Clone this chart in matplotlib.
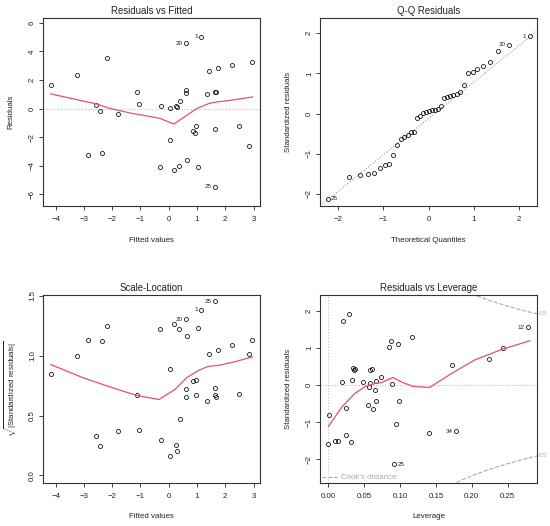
import numpy as np
import matplotlib
matplotlib.use("Agg")
import matplotlib.pyplot as plt
from matplotlib.lines import Line2D
import matplotlib.transforms as mtransforms

plt.rcParams['font.family'] = ['Liberation Sans', 'DejaVu Sans']
plt.rcParams['mathtext.fontset'] = 'custom'
plt.rcParams['mathtext.rm'] = 'Liberation Sans'

# ---- Residuals vs Fitted ----
fitted = [-4.18, -3.24, -2.18, -2.85, -2.36, -2.59, -2.44, -1.78, -1.13, -1.06,
          -0.26, -0.32, 0.03, 0.03, 0.24, 0.31, 0.39, 0.18, 0.35, 0.66,
          0.61, 0.60, 0.62, 1.15, 0.86, 0.92, 0.95, 1.05, 1.37, 1.42,
          1.65, 1.69, 1.65, 1.65, 1.74, 2.24, 2.49, 2.83, 2.96]
resid = [1.66, 2.32, 3.56, -3.23, -3.11, 0.28, -0.16, -0.37, 1.17, 0.35,
         0.21, -4.05, 0.07, -2.18, 0.19, 0.09, 0.56, -4.30, -4.00, -3.60,
         4.56, 1.31, 1.12, 5.03, -1.57, -1.71, -1.19, -4.05, 1.03, 2.62,
         1.17, 1.17, -1.40, -5.47, 2.81, 3.04, -1.19, -2.62, 3.27]
rf_smooth_x = [-4.18, -2.56, -2.09, -1.26, -0.96, -0.31, 0.18, 1.00, 1.44, 1.70, 2.29, 2.96]
rf_smooth_y = [1.03, 0.33, 0.02, -0.35, -0.44, -0.68, -1.08, 0.02, 0.37, 0.47, 0.61, 0.82]
rf_ids = {"20": (0.61, 4.56), "1": (1.15, 5.03), "25": (1.65, -5.47)}

# ---- Q-Q Residuals ----
theo_q = [-2.231, -1.769, -1.522, -1.342, -1.198, -1.076, -0.967, -0.869, -0.779, -0.695,
          -0.615, -0.539, -0.466, -0.396, -0.327, -0.260, -0.194, -0.129, -0.064, 0.0,
          0.064, 0.129, 0.194, 0.260, 0.327, 0.396, 0.466, 0.539, 0.615, 0.695,
          0.779, 0.869, 0.967, 1.076, 1.198, 1.342, 1.522, 1.769, 2.231]
std_resid_sorted = [-2.12, -1.59, -1.53, -1.50, -1.49, -1.35, -1.28, -1.26, -1.03, -0.78,
                    -0.63, -0.58, -0.53, -0.46, -0.46, -0.12, -0.05, 0.02, 0.05, 0.07,
                    0.08, 0.09, 0.12, 0.20, 0.40, 0.41, 0.43, 0.46, 0.50, 0.55,
                    0.71, 1.00, 1.04, 1.10, 1.18, 1.29, 1.55, 1.71, 1.92]
qq_slope = 0.908
qq_intercept = -0.118
qq_ids = {"25": 0, "20": 37, "1": 38}

# ---- Scale-Location ----
sl_y = [0.846, 1.00, 1.246, 1.13, 1.12, 0.327, 0.246, 0.369, 0.67, 0.377,
        0.296, 1.223, 0.89, 0.165, 0.257, 0.204, 0.469, 1.265, 1.223, 1.162,
        1.304, 0.726, 0.656, 1.383, 0.785, 0.80, 0.673, 1.232, 0.623, 1.011,
        0.729, 0.654, 0.668, 1.455, 1.05, 1.092, 0.679, 1.017, 1.131]
sl_x = [-4.18, -3.24, -2.18, -2.85, -2.36, -2.59, -2.44, -1.78, -1.13, -1.06,
        -0.26, -0.32, 0.03, 0.03, 0.24, 0.31, 0.39, 0.18, 0.35, 0.66,
        0.61, 0.60, 0.62, 1.15, 0.86, 0.95, 0.95, 1.05, 1.37, 1.42,
        1.65, 1.69, 1.65, 1.65, 1.74, 2.24, 2.49, 2.83, 2.96]
sl_smooth_x = [-4.18, -3.03, -2.09, -1.13, -0.35, 0.22, 0.63, 1.05, 1.40, 1.82, 2.29, 2.96]
sl_smooth_y = [0.927, 0.816, 0.74, 0.668, 0.634, 0.718, 0.816, 0.877, 0.911, 0.922, 0.947, 0.99]
sl_ids = {"20": (0.61, 1.304), "1": (1.15, 1.383), "25": (1.65, 1.455)}

# ---- Residuals vs Leverage ----
leverage = [0.000, 0.001, 0.009, 0.013, 0.019, 0.021, 0.025, 0.025, 0.029, 0.031,
            0.033, 0.034, 0.036, 0.037, 0.048, 0.055, 0.057, 0.058, 0.058, 0.061,
            0.063, 0.065, 0.066, 0.067, 0.074, 0.085, 0.087, 0.089, 0.092, 0.094,
            0.097, 0.099, 0.117, 0.141, 0.172, 0.178, 0.224, 0.243, 0.279]
lev_resid = [-1.60, -0.80, -1.51, -1.51, 0.07, 1.72, -0.62, -1.36, 1.91, -1.54,
             0.14, 0.46, 0.39, 0.43, 0.09, -0.54, -0.06, 0.41, 0.05, 0.43,
             -0.66, -0.14, -0.44, 0.10, 0.22, 1.02, 1.19, 0.02, -2.13, -1.04,
             1.11, -0.44, 1.29, -1.30, 0.53, -1.25, 0.71, 0.99, 1.55]
lev_smooth_x = [0.0, 0.019, 0.037, 0.051, 0.065, 0.074, 0.090, 0.102, 0.118, 0.141, 0.172, 0.204, 0.241, 0.281]
lev_smooth_y = [-1.12, -0.59, -0.23, -0.05, 0.04, 0.06, 0.20, 0.08, -0.04, -0.07, 0.31, 0.67, 0.95, 1.19]
lev_ids = {"25": (0.092, -2.13), "34": (0.178, -1.25), "12": (0.279, 1.55)}
cook_level = 0.5
n_params = 3

red = '#DF536B'
grey = '#BEBEBE'
dark = '#222222'
fs_tick = 5.7
fs_title = 6.9
fs_id = 4.5

fig = plt.figure(figsize=(5.5, 5.26), dpi=100)
W, H = 550, 526
boxes = [(43, 18), (320, 18), (43, 295), (320, 295)]
aw, ah = 217, 188
axes = [fig.add_axes([x / W, 1 - (y + ah) / H, aw / W, ah / H]) for x, y in boxes]


def style(ax, title, xlabel, ylabel):
    ax.set_title(title, fontsize=fs_title, color=dark, pad=3)
    ax.set_xlabel(xlabel, fontsize=fs_tick, color=dark)
    ax.set_ylabel(ylabel, fontsize=fs_tick, color=dark)
    ax.xaxis.set_label_coords(0.5, -34 / ah)
    ax.yaxis.set_label_coords(-32 / aw, 0.5)
    ax.xaxis.label.set_va('center')
    ax.yaxis.label.set_va('center')
    ax.tick_params(direction='out', length=3, width=0.6, labelsize=fs_tick,
                   colors=dark, pad=4)
    ax.tick_params(axis='y', pad=2)
    for lbl in ax.get_yticklabels():
        lbl.set_rotation(90)
        lbl.set_va('center')
    for s in ax.spines.values():
        s.set_linewidth(0.8)
        s.set_color('#333333')


def points(ax, x, y):
    ax.plot(x, y, 'o', ms=2.9, mfc='none', mec='black', mew=0.55)


def ident(ax, ids, left):
    for lab, (x, y) in ids.items():
        l = left(x)
        ax.annotate(lab, (x, y), xytext=(-2.5 if l else 2.5, 0), textcoords='offset points',
                    ha='right' if l else 'left', va='center', fontsize=fs_id, color=dark)


# panel 1
ax = axes[0]
ax.axhline(0, color=grey, ls=':', lw=0.8)
points(ax, fitted, resid)
ax.plot(rf_smooth_x, rf_smooth_y, color=red, lw=0.9)
ident(ax, rf_ids, lambda x: x > -0.6)
ax.set_xlim(-4.45, 3.23)
ax.set_ylim(-6.81, 6.34)
ax.set_xticks([-4, -3, -2, -1, 0, 1, 2, 3])
ax.set_yticks([-6, -4, -2, 0, 2, 4, 6])
style(ax, 'Residuals vs Fitted', 'Fitted values', 'Residuals')

# panel 2
ax = axes[1]
ax.axline((0, qq_intercept), slope=qq_slope, color='#999999', ls=':', lw=0.8)
points(ax, theo_q, std_resid_sorted)
for lab, i in qq_ids.items():
    l = theo_q[i] > 0
    ax.annotate(lab, (theo_q[i], std_resid_sorted[i]), xytext=(-2.5 if l else 2.5, 0),
                textcoords='offset points', ha='right' if l else 'left', va='center',
                fontsize=fs_id, color=dark)
ax.set_xlim(-2.40, 2.39)
ax.set_ylim(-2.30, 2.38)
ax.set_xticks([-2, -1, 0, 1, 2])
ax.set_yticks([-2, -1, 0, 1, 2])
style(ax, 'Q-Q Residuals', 'Theoretical Quantiles', 'Standardized residuals')

# panel 3
ax = axes[2]
points(ax, sl_x, sl_y)
ax.plot(sl_smooth_x, sl_smooth_y, color=red, lw=0.9)
ident(ax, sl_ids, lambda x: x > -0.6)
ax.set_xlim(-4.45, 3.23)
ax.set_ylim(-0.064, 1.508)
ax.set_xticks([-4, -3, -2, -1, 0, 1, 2, 3])
ax.set_yticks([0.0, 0.5, 1.0, 1.5])
ax.set_yticklabels(['0.0', '0.5', '1.0', '1.5'])
style(ax, 'Scale-Location', 'Fitted values',
      r'$\sqrt{|\mathrm{Standardized\ residuals}|}$')

# panel 4
ax = axes[3]
ax.axhline(0, color=grey, ls=':', lw=0.8)
ax.axvline(0, color=grey, ls=':', lw=0.8)
points(ax, leverage, lev_resid)
ax.plot(lev_smooth_x, lev_smooth_y, color=red, lw=0.9)
ident(ax, lev_ids, lambda x: x > 0.14)
xlim = (-0.0116, 0.291)
hh = np.linspace(0.001, xlim[1], 200)
cont = np.sqrt(cook_level * n_params * (1 - hh) / hh)
ax.plot(hh, cont, color='#AAAAAA', ls='--', lw=0.8)
ax.plot(hh, -cont, color='#AAAAAA', ls='--', lw=0.8)
trans = mtransforms.blended_transform_factory(ax.transAxes, ax.transData)
edge = np.sqrt(cook_level * n_params * (1 - xlim[1]) / xlim[1])
for yy in (edge, -edge):
    ax.text(1.01, yy, '0.5', transform=trans, fontsize=4.3, color='#AAAAAA',
            ha='left', va='center', clip_on=False)
ax.set_xlim(*xlim)
ax.set_ylim(-2.64, 2.42)
ax.set_xticks([0.0, 0.05, 0.10, 0.15, 0.20, 0.25])
ax.set_xticklabels(['0.00', '0.05', '0.10', '0.15', '0.20', '0.25'])
ax.set_yticks([-2, -1, 0, 1, 2])
leg = ax.legend([Line2D([], [], color='#AAAAAA', ls='--', lw=0.8)], ["Cook's distance"],
                loc='lower left', frameon=False, fontsize=fs_tick, handlelength=2.0,
                handletextpad=0.5, borderaxespad=0.0, borderpad=0.2, labelcolor='#AAAAAA')
style(ax, 'Residuals vs Leverage', 'Leverage', 'Standardized residuals')

fig.savefig('out.png', dpi=100)
